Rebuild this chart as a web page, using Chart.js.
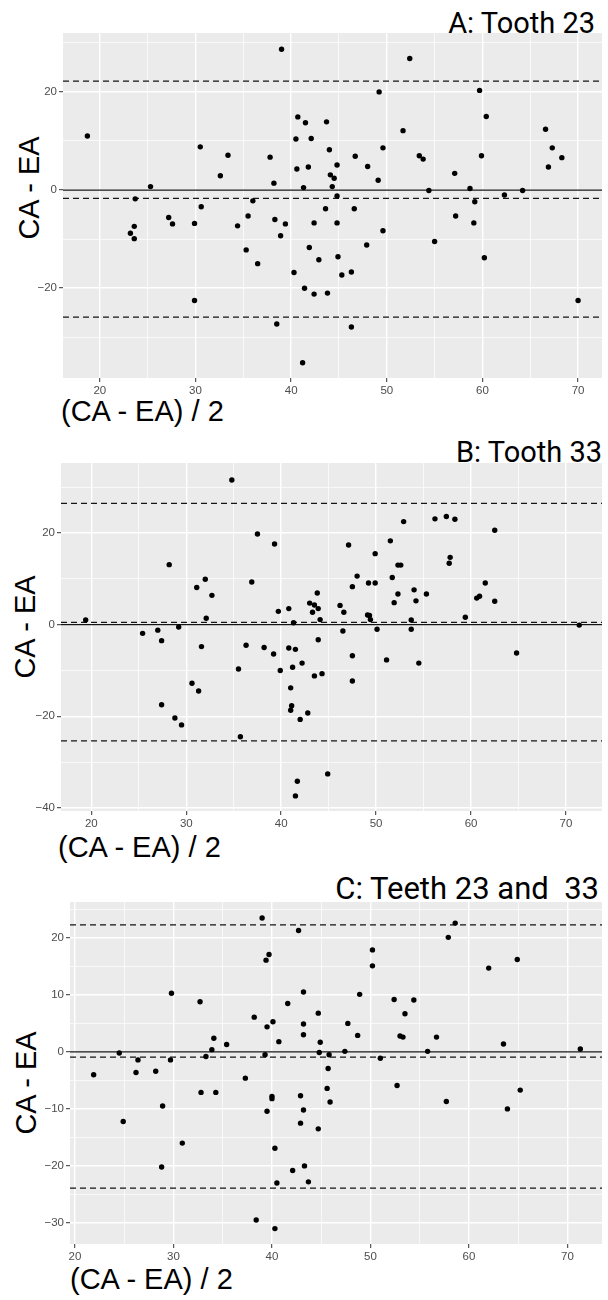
<!DOCTYPE html>
<html>
<head>
<meta charset="utf-8">
<script src="https://cdn.jsdelivr.net/npm/chart.js@4.4.1/dist/chart.umd.min.js"></script>
<style>
  html, body { margin: 0; padding: 0; background: #fff; }
  body { width: 608px; height: 1300px; position: relative; overflow: hidden; }
  canvas { position: absolute; left: 0; }
  .title { position: absolute; font-family: Roboto, sans-serif; font-size: 29px; line-height: 29px; color: #000; white-space: pre; }
  .xlab { position: absolute; font-family: 'Liberation Sans', Arial, sans-serif; font-size: 29px; line-height: 29px; color: #000; white-space: pre; }
  .ylab { position: absolute; font-family: 'Liberation Sans', Arial, sans-serif; font-size: 29px; line-height: 29px; color: #000; white-space: pre;
          transform: translate(-50%, -50%) rotate(-90deg); }
</style>
</head>
<body>
<div class="title" style="right:13px; top:9px;">A: Tooth 23</div>
<div class="ylab" style="left:29px; top:188px;">CA - EA</div>
<div class="xlab" style="left:61px; top:397px;">(CA - EA) / 2</div>
<canvas id="chartA" width="606" height="387" style="top:21px;"></canvas>

<div class="title" style="right:6px; top:438px;">B: Tooth 33</div>
<div class="ylab" style="left:25px; top:627px;">CA - EA</div>
<div class="xlab" style="left:58px; top:833px;">(CA - EA) / 2</div>
<canvas id="chartB" width="606" height="390" style="top:451px;"></canvas>

<div class="title" style="right:9px; top:873px; font-size:31px; line-height:31px;">C: Teeth 23 and  33</div>
<div class="ylab" style="left:26px; top:1083px;">CA - EA</div>
<div class="xlab" style="left:70px; top:1265px;">(CA - EA) / 2</div>
<canvas id="chartC" width="606" height="384" style="top:890px;"></canvas>

<script>
// A: tooth 23 — mean of the two measurements vs difference
const avgA = [18.7, 39.0, 52.4, 49.2, 59.7, 60.4, 40.7, 41.5, 43.7, 40.5, 42.1, 51.7, 66.6, 67.3, 68.3, 66.9,
  30.5, 33.4, 32.6, 37.8, 38.2, 44.0, 44.8, 44.1, 44.5, 44.3, 44.8, 40.6, 41.8, 41.3, 46.7, 48.0, 49.1, 49.6,
  53.4, 53.8, 54.4, 57.1, 58.7, 59.2, 59.9, 62.3, 64.2, 25.3, 23.7, 30.6, 36.0, 27.2, 35.5, 38.3, 43.6, 46.6,
  57.2, 27.6, 23.6, 23.2, 23.6, 29.9, 34.4, 39.4, 38.9, 42.4, 44.8, 35.3, 36.5, 41.9, 42.9, 44.9, 47.9, 49.6,
  40.3, 46.3, 45.3, 41.4, 42.4, 43.8, 29.9, 70.0, 38.5, 46.3, 41.2, 55.0, 59.1, 60.2];
const diffA = [11.0, 28.7, 26.8, 20.0, 20.3, 15.0, 14.9, 13.7, 13.9, 10.4, 10.5, 12.1, 12.4, 8.6, 6.6, 4.7,
  8.8, 7.1, 2.9, 6.7, 1.4, 8.2, 5.1, 3.1, 2.4, 0.7, -1.2, 4.3, 4.7, 0.5, 6.9, 4.8, 2.0, 8.6,
  7.0, 6.3, -0.1, 3.4, 0.3, -2.4, 7.0, -1.0, -0.1, 0.7, -1.8, -3.4, -2.2, -5.6, -5.3, -6.0, -3.8, -3.8,
  -5.3, -6.9, -7.4, -8.8, -9.9, -6.8, -7.3, -6.9, -9.3, -6.7, -6.7, -12.2, -15.0, -11.7, -14.2, -13.6, -11.2, -8.3,
  -16.8, -16.7, -17.3, -20.0, -21.2, -21.0, -22.5, -22.5, -27.3, -27.9, -35.2, -10.5, -6.7, -13.8];
const limitsA = [22.2, -1.7, -25.9];   // upper LoA, mean bias, lower LoA

// B: tooth 33
const avgB = [19.4, 34.8, 37.5, 39.3, 28.2, 31.1, 32.0, 32.7, 32.1, 36.9, 39.7, 40.8, 41.3, 43.0, 43.5, 43.9,
  43.3, 43.8, 44.1, 47.1, 46.2, 46.6, 47.5, 48.0, 49.9, 49.2, 49.9, 49.1, 49.3, 49.4, 50.1, 51.5, 51.7, 52.3,
  52.6, 52.9, 51.9, 52.3, 54.0, 54.2, 53.7, 53.7, 55.3, 56.2, 57.4, 58.3, 57.8, 57.7, 59.4, 60.6, 60.9, 61.5,
  62.5, 62.5, 71.4, 25.4, 27.0, 29.2, 46.5, 43.9, 27.4, 31.6, 36.3, 38.2, 39.2, 40.8, 41.5, 35.5, 39.9, 41.2,
  42.2, 43.5, 44.3, 47.5, 47.5, 51.1, 54.5, 64.8, 30.6, 31.3, 27.4, 28.8, 29.5, 41.0, 41.1, 41.0, 42.8, 42.0,
  35.7, 44.9, 41.7, 41.5];
const diffB = [1.0, 31.6, 19.8, 17.6, 13.1, 8.1, 9.9, 6.4, 1.4, 9.3, 2.9, 3.5, 0.4, 4.7, 4.3, 3.5,
  2.7, 6.9, 1.1, 17.4, 4.2, 2.7, 8.3, 10.6, 15.5, 9.1, 9.1, 2.1, 2.0, 1.1, -1.0, 18.3, 10.3, 13.0,
  13.0, 22.5, 4.8, 6.7, 7.6, 5.2, 1.0, -1.0, 6.7, 23.1, 23.6, 23.0, 14.7, 13.4, 1.6, 5.8, 6.2, 9.1,
  20.6, 5.1, -0.1, -1.9, -1.2, -0.5, -1.4, -3.3, -3.5, -4.8, -4.5, -5.0, -6.4, -5.1, -5.4, -9.7, -10.0, -9.3,
  -8.4, -11.2, -10.7, -6.8, -12.3, -7.7, -8.4, -6.2, -12.8, -14.5, -17.5, -20.4, -21.9, -13.8, -17.7, -18.7, -19.3, -20.7,
  -24.5, -32.6, -34.2, -37.4];
const limitsB = [26.5, 0.5, -25.4];

// C: teeth 23 and 33
const avgC = [39.0, 42.7, 57.9, 58.6, 39.4, 39.7, 50.2, 50.2, 62.0, 64.9, 29.8, 32.7, 43.2, 48.9, 41.6, 44.7,
  52.4, 54.4, 53.5, 38.2, 40.1, 39.5, 43.2, 47.7, 43.2, 48.7, 53.0, 53.3, 56.7, 34.1, 35.4, 33.9, 40.7, 44.9,
  63.5, 71.3, 47.4, 55.8, 44.8, 24.5, 39.3, 45.8, 33.3, 26.4, 29.7, 51.0, 45.7, 21.9, 26.2, 28.2, 37.3, 52.7,
  32.8, 34.3, 40.0, 40.0, 42.9, 45.6, 45.9, 57.7, 65.2, 63.9, 28.9, 39.5, 43.2, 24.9, 42.9, 44.7, 30.9, 40.3,
  28.8, 42.1, 43.3, 40.5, 43.7, 38.4, 40.3];
const diffC = [23.5, 21.3, 20.1, 22.6, 16.1, 17.1, 17.9, 15.1, 14.7, 16.2, 10.3, 8.8, 10.5, 10.1, 8.5, 6.8,
  9.2, 9.1, 6.7, 6.1, 5.3, 4.4, 4.9, 5.0, 3.0, 2.9, 2.8, 2.6, 2.6, 2.4, 1.3, 0.4, 1.8, 1.7,
  1.4, 0.5, 0.1, 0.1, -0.1, -0.2, -0.5, -0.5, -0.8, -1.4, -1.4, -1.1, -2.9, -4.0, -3.6, -3.4, -4.6, -5.9,
  -7.1, -7.1, -7.8, -8.2, -7.7, -6.4, -8.8, -8.7, -6.7, -10.0, -9.5, -10.4, -10.2, -12.2, -12.5, -13.5, -16.0, -16.9,
  -20.2, -20.8, -20.0, -23.0, -22.8, -29.5, -31.0];
const limitsC = [22.3, -0.9, -23.9];

// breaks (minor + major) and labelled ticks
const xBreaks = [20, 25, 30, 35, 40, 45, 50, 55, 60, 65, 70];
const xLabels = [20, 30, 40, 50, 60, 70];
const yBreaksA = [-30, -20, -10, 0, 10, 20, 30];
const yLabelsA = [-20, 0, 20];
const yBreaksB = [-40, -30, -20, -10, 0, 10, 20, 30];
const yLabelsB = [-40, -20, 0, 20];
const yBreaksC = [-30, -25, -20, -15, -10, -5, 0, 5, 10, 15, 20, 25];
const yLabelsC = [-30, -20, -10, 0, 10, 20];

const panelBg = {
  id: 'panelBg',
  beforeDraw(chart) {
    const a = chart.chartArea, ctx = chart.ctx;
    ctx.save();
    ctx.fillStyle = '#ebebeb';
    ctx.fillRect(a.left, a.top, a.right - a.left, a.bottom - a.top);
    ctx.restore();
  }
};

const fmt = v => (v < 0 ? '\u2212' + Math.abs(v) : String(v));

function axis(range, breaks, labels, fitFn) {
  const isMajor = c => c.tick && labels.includes(c.tick.value);
  return {
    type: 'linear',
    min: range[0],
    max: range[1],
    afterFit: fitFn,
    afterBuildTicks: s => { s.ticks = breaks.map(v => ({ value: v })); },
    border: { display: false },
    grid: {
      color: '#ffffff',
      lineWidth: c => isMajor(c) ? 1.4 : 0.7,
      tickColor: c => isMajor(c) ? '#333333' : 'rgba(0,0,0,0)',
      tickLength: 4,
      tickWidth: 1
    },
    ticks: {
      autoSkip: false,
      maxRotation: 0,
      padding: 2,
      color: '#4d4d4d',
      font: { family: "'Liberation Sans', Arial, sans-serif", size: 11.5 },
      callback: v => labels.includes(v) ? fmt(v) : ''
    }
  };
}

function hline(y, xr, dash) {
  return {
    data: [{ x: xr[0], y: y }, { x: xr[1], y: y }],
    showLine: true,
    borderColor: '#151515',
    borderWidth: 1.3,
    borderDash: dash,
    pointRadius: 0
  };
}

function drawPanel(id, avg, diff, limits, xr, yr, yBreaks, yLabels, leftW) {
  const pts = avg.map((x, i) => ({ x: x, y: diff[i] }));
  new Chart(document.getElementById(id), {
    type: 'scatter',
    data: {
      datasets: [
        { data: pts, backgroundColor: '#000', borderWidth: 0, pointRadius: 2.7 },
        hline(0, xr, []),
        ...limits.map(v => hline(v, xr, [6, 4]))
      ]
    },
    options: {
      responsive: false,
      animation: false,
      events: [],
      layout: { padding: { top: 12, right: 0, bottom: 0, left: 0 } },
      plugins: { legend: { display: false }, tooltip: { enabled: false } },
      scales: {
        x: axis(xr, xBreaks, xLabels, s => { s.height = 30; }),
        y: axis(yr, yBreaks, yLabels, s => { s.width = leftW; })
      }
    },
    plugins: [panelBg]
  });
}

drawPanel('chartA', avgA, diffA, limitsA, [16.15, 72.5], [-38.3, 32.0], yBreaksA, yLabelsA, 63);
drawPanel('chartB', avgB, diffB, limitsB, [16.8, 73.8], [-40.7, 35.3], yBreaksB, yLabelsB, 61);
drawPanel('chartC', avgC, diffC, limitsC, [19.5, 73.5], [-33.7, 26.3], yBreaksC, yLabelsC, 70);
</script>
</body>
</html>
